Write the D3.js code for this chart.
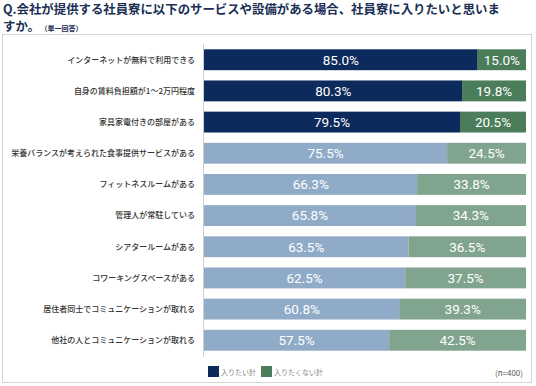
<!DOCTYPE html>
<html><head><meta charset="utf-8">
<script src="https://cdn.jsdelivr.net/npm/d3@7"></script>
<style>body{margin:0;background:#fff;}svg{display:block;}</style>
</head><body>
<svg id="c" width="536" height="386"></svg>
<script>
const categories = [
  "インターネットが無料で利用できる",
  "自身の賃料負担額が1～2万円程度",
  "家具家電付きの部屋がある",
  "栄養バランスが考えられた食事提供サービスがある",
  "フィットネスルームがある",
  "管理人が常駐している",
  "シアタールームがある",
  "コワーキングスペースがある",
  "居住者同士でコミュニケーションが取れる",
  "他社の人とコミュニケーションが取れる"
];
const wantValues = [85.0, 80.3, 79.5, 75.5, 66.3, 65.8, 63.5, 62.5, 60.8, 57.5];
const notWantValues = [15.0, 19.8, 20.5, 24.5, 33.8, 34.3, 36.5, 37.5, 39.3, 42.5];
const highlighted = [true, true, true, false, false, false, false, false, false, false];
const seriesNames = ["入りたい計", "入りたくない計"];
const titleLines = ["Q.会社が提供する社員寮に以下のサービスや設備がある場合、社員寮に入りたいと思いま", "すか。"];
const subTitle = "（単一回答）";
const noteText = "(n=400)";

const svg = d3.select("#c");
const C = {navy:"#0c2b5c", green:"#4b7d5a", lblue:"#90abc8", lgreen:"#80a48e"};

// title (one text element, two lines)
const t = svg.append("text").attr("y",13.5).attr("font-family","'Noto Sans CJK JP'")
  .attr("font-weight","bold").attr("fill","#1b2f55");
t.append("tspan").attr("x",3).attr("font-size",12.4).text(titleLines[0]);
t.append("tspan").attr("x",3).attr("y",31).attr("font-size",12.4).text(titleLines[1]);
t.append("tspan").attr("font-size",7).attr("dx",4).text(subTitle);

// frame
svg.append("rect").attr("x",2.5).attr("y",34.5).attr("width",529).attr("height",348)
  .attr("fill","none").attr("stroke","#d4d4d4").attr("stroke-width",1);

const x = d3.scaleLinear().domain([0,100]).range([204,526]);
const y = d3.scaleBand().domain(categories).range([44,356]).paddingInner(0.33).paddingOuter(0.17);

// axis line
svg.append("line").attr("x1",203.5).attr("x2",203.5).attr("y1",44).attr("y2",357)
  .attr("stroke","#cfcfcf").attr("stroke-width",1);

const rows = categories.map((c,i)=>({c, w:wantValues[i], n:notWantValues[i], h:highlighted[i]}));

const g = svg.append("g");
g.selectAll("rect.w").data(rows).join("rect").attr("class","w")
  .attr("x",x(0)).attr("y",d=>y(d.c)).attr("width",d=>x(d.w)-x(0)).attr("height",y.bandwidth())
  .attr("fill",d=>d.h?C.navy:C.lblue);
g.selectAll("rect.n").data(rows).join("rect").attr("class","n")
  .attr("x",d=>x(100-d.n)).attr("y",d=>y(d.c)).attr("width",d=>x(100)-x(100-d.n)).attr("height",y.bandwidth())
  .attr("fill",d=>d.h?C.green:C.lgreen);

const lblFont = "Roboto";
g.selectAll("text.w").data(rows).join("text").attr("class","w")
  .attr("x",d=>(x(0)+x(d.w))/2).attr("y",d=>y(d.c)+y.bandwidth()/2).attr("dy","0.36em")
  .attr("text-anchor","middle").attr("font-family",lblFont).attr("font-size",13.5).attr("font-weight",400)
  .attr("fill","#fff").text(d=>d.w.toFixed(1)+"%");
g.selectAll("text.n").data(rows).join("text").attr("class","n")
  .attr("x",d=>(x(100-d.n)+x(100))/2).attr("y",d=>y(d.c)+y.bandwidth()/2).attr("dy","0.36em")
  .attr("text-anchor","middle").attr("font-family",lblFont).attr("font-size",13.5).attr("font-weight",400)
  .attr("fill","#fff").text(d=>d.n.toFixed(1)+"%");

// category labels
g.selectAll("text.c").data(rows).join("text").attr("class","c")
  .attr("x",195).attr("y",d=>y(d.c)+y.bandwidth()/2).attr("dy","0.36em")
  .attr("text-anchor","end").attr("font-family","'Noto Sans CJK JP'").attr("font-size",8)
  .attr("font-weight",500).attr("fill","#333").text(d=>d.c);

// legend
const leg = svg.append("g");
const legX = [208, 261];
seriesNames.forEach((s,i)=>{
  leg.append("rect").attr("x",legX[i]).attr("y",366).attr("width",11).attr("height",11)
    .attr("fill",i===0?C.navy:C.green);
  leg.append("text").attr("x",legX[i]+13).attr("y",374.5).attr("font-family","'Noto Sans CJK JP'")
    .attr("font-size",7).attr("fill","#888").text(s);
});
svg.append("text").attr("x",523).attr("y",376).attr("text-anchor","end").attr("font-family","'Noto Sans CJK JP'")
  .attr("font-size",8).attr("fill","#555").text(noteText);
</script>
</body></html>
